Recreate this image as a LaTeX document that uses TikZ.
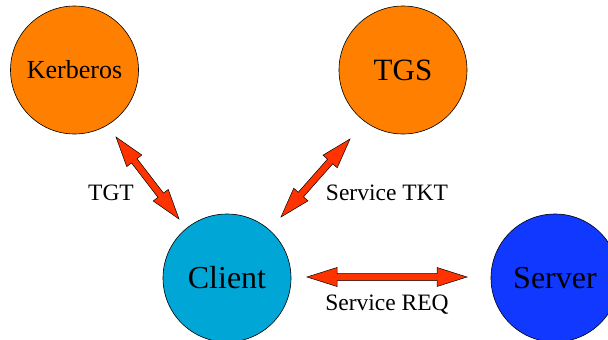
\documentclass[tikz,border=0pt]{standalone}
\usepackage{fontspec}
\setmainfont{Liberation Serif}
\usetikzlibrary{calc}
\definecolor{orangeC}{RGB}{255,128,0}
\definecolor{clientC}{RGB}{0,166,214}
\definecolor{serverC}{RGB}{16,56,255}
\definecolor{arrowC}{RGB}{255,51,0}
\tikzset{
  entity/.style={circle, draw=black, line width=0.6pt, minimum size=128pt, inner sep=0pt},
  lbl/.style={font=\fontsize{23.5}{27}\selectfont, inner sep=0pt},
  blockarrow/.style={draw=black, line width=0.5pt, fill=arrowC, line join=miter}
}
\newcommand{\blockarr}[2]{%
  \draw[blockarrow] (#1)
    -- ($(#1)!30pt!(#2)!9.5pt!90:(#2)$)
    -- ($(#1)!30pt!(#2)!3.5pt!90:(#2)$)
    -- ($(#2)!30pt!(#1)!3.5pt!-90:(#1)$)
    -- ($(#2)!30pt!(#1)!9.5pt!-90:(#1)$)
    -- (#2)
    -- ($(#2)!30pt!(#1)!9.5pt!90:(#1)$)
    -- ($(#2)!30pt!(#1)!3.5pt!90:(#1)$)
    -- ($(#1)!30pt!(#2)!3.5pt!-90:(#2)$)
    -- ($(#1)!30pt!(#2)!9.5pt!-90:(#2)$)
    -- cycle;}
\begin{document}
\begin{tikzpicture}[x=1pt,y=-1pt]
\useasboundingbox (0,0) rectangle (608,340);
\begin{scope}
\clip (0,0) rectangle (608,340);
\node[entity, fill=orangeC] (kerb) at (74.5,70) {\fontsize{26}{30}\selectfont Kerberos};
\node[entity, fill=orangeC] (tgs) at (403,70) {\fontsize{31}{36}\selectfont TGS};
\node[entity, fill=clientC] (client) at (227,278) {\fontsize{32}{36}\selectfont Client};
\node[entity, fill=serverC] (server) at (555,278) {\fontsize{32}{36}\selectfont Server};
\end{scope}
\coordinate (a1) at (116,137);
\coordinate (b1) at (179,219);
\coordinate (a2) at (350,139);
\coordinate (b2) at (281,217);
\coordinate (a3) at (307,277);
\coordinate (b3) at (467,277);
\blockarr{a1}{b1}
\blockarr{a2}{b2}
\blockarr{a3}{b3}
\node[lbl] (tgt) at (111,193) {TGT};
\node[lbl] (stkt) at (387,193) {Service TKT};
\node[lbl] (sreq) at (387,305) {Service REQ};
\end{tikzpicture}
\end{document}
